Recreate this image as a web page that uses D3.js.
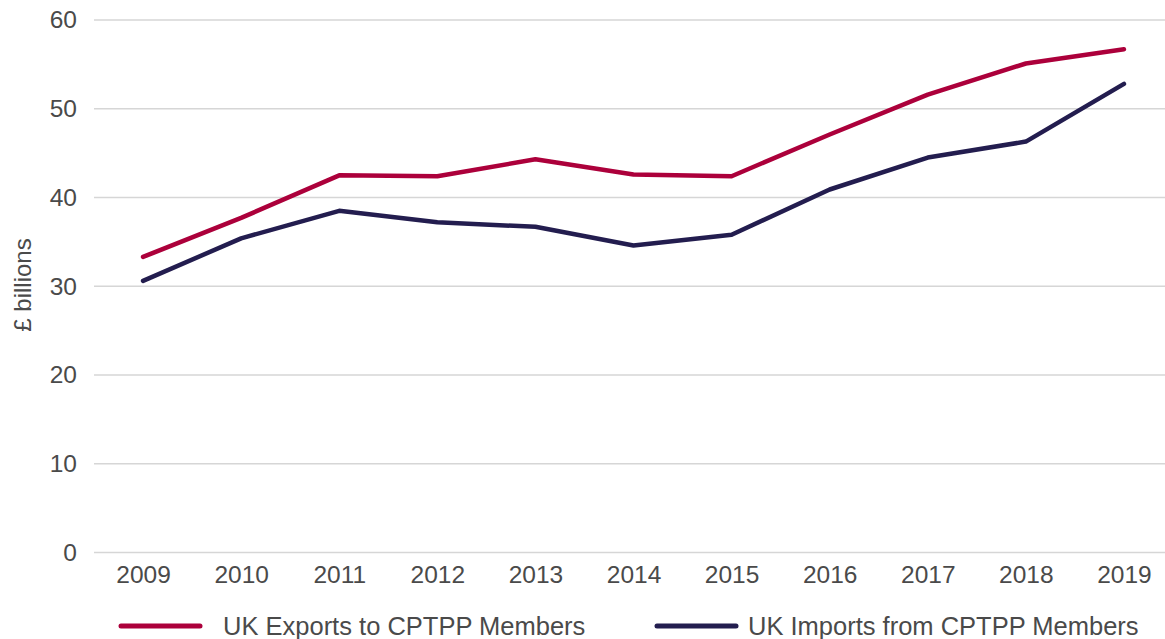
<!DOCTYPE html>
<html>
<head>
<meta charset="utf-8">
<script src="https://cdn.jsdelivr.net/npm/d3@7/dist/d3.min.js"></script>
<style>
  body { margin: 0; background: #fff; }
  svg { display: block; }
  text { font-family: "Liberation Sans", Arial, Helvetica, sans-serif; fill: #4a4a4a; }
</style>
</head>
<body>
<script>
// chart data
var years = ["2009","2010","2011","2012","2013","2014","2015","2016","2017","2018","2019"];
var exportsVals = [33.3, 37.7, 42.5, 42.4, 44.3, 42.6, 42.4, 47.1, 51.6, 55.1, 56.7];
var importsVals = [30.6, 35.4, 38.5, 37.2, 36.7, 34.6, 35.8, 40.9, 44.5, 46.3, 52.8];
var yTicks = [0, 10, 20, 30, 40, 50, 60];
var seriesNames = ["UK Exports to CPTPP Members", "UK Imports from CPTPP Members"];

var width = 1165, height = 639;
var colors = ["#ac003b", "#231d4f"];

var svg = d3.select("body").append("svg")
    .attr("width", width)
    .attr("height", height);

var x = d3.scalePoint()
    .domain(years)
    .range([94, 1173])
    .padding(0.5);

var y = d3.scaleLinear()
    .domain([0, 60])
    .range([552.5, 20]);

// gridlines
svg.append("g")
  .selectAll("line")
  .data(yTicks)
  .enter().append("line")
    .attr("x1", 94)
    .attr("x2", width)
    .attr("y1", function(d) { return y(d); })
    .attr("y2", function(d) { return y(d); })
    .attr("stroke", "#d6d6d6")
    .attr("stroke-width", 1.5);

// y axis labels
var yAxis = d3.axisLeft(y).tickValues(yTicks).tickSize(0).tickPadding(0);
var yg = svg.append("g")
    .attr("transform", "translate(77,0)")
    .call(yAxis);
yg.select(".domain").remove();
yg.selectAll("text")
    .attr("font-size", "24.5px")
    .attr("font-family", "Liberation Sans, Arial, sans-serif")
    .attr("fill", "#4a4a4a");

// x axis labels
var xAxis = d3.axisBottom(x).tickSize(0).tickPadding(0);
var xg = svg.append("g")
    .attr("transform", "translate(0,566)")
    .call(xAxis);
xg.select(".domain").remove();
xg.selectAll("text")
    .attr("font-size", "24.5px")
    .attr("font-family", "Liberation Sans, Arial, sans-serif")
    .attr("fill", "#4a4a4a");

// y axis title
svg.append("text")
    .attr("transform", "translate(31,285) rotate(-90)")
    .attr("text-anchor", "middle")
    .attr("font-size", "24px")
    .text("£ billions");

// lines
var line = d3.line()
    .x(function(d, i) { return x(years[i]); })
    .y(function(d) { return y(d); });

[exportsVals, importsVals].forEach(function(vals, i) {
  svg.append("path")
      .datum(vals)
      .attr("d", line)
      .attr("fill", "none")
      .attr("stroke", colors[i])
      .attr("stroke-width", 4.5)
      .attr("stroke-linecap", "round")
      .attr("stroke-linejoin", "round");
});

// legend
var legendPos = [{lx: 121, tx: 223}, {lx: 657, tx: 748}];
var legend = svg.append("g")
  .selectAll("g")
  .data(seriesNames)
  .enter().append("g");

legend.append("line")
    .attr("x1", function(d, i) { return legendPos[i].lx; })
    .attr("x2", function(d, i) { return legendPos[i].lx + 79; })
    .attr("y1", 626)
    .attr("y2", 626)
    .attr("stroke", function(d, i) { return colors[i]; })
    .attr("stroke-width", 5)
    .attr("stroke-linecap", "round");

legend.append("text")
    .attr("x", function(d, i) { return legendPos[i].tx; })
    .attr("y", 635)
    .attr("font-size", "25.5px")
    .text(function(d) { return d; });
</script>
</body>
</html>
